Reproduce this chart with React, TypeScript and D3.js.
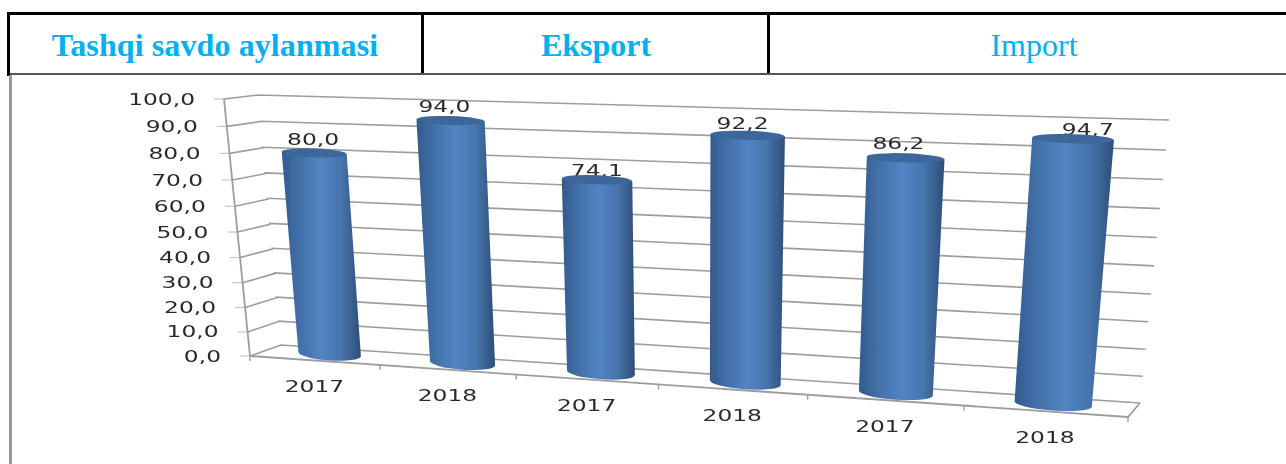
import React from "react";
import * as d3 from "d3";

// ---- data ----
const categories = ["2017", "2018", "2017", "2018", "2017", "2018"];
const values = [80.0, 94.0, 74.1, 92.2, 86.2, 94.7];
const valueLabels = ["80,0", "94,0", "74,1", "92,2", "86,2", "94,7"];
const yTicks = [0, 10, 20, 30, 40, 50, 60, 70, 80, 90, 100];
const headers = ["Tashqi savdo aylanmasi", "Eksport", "Import"];

// ---- layout ----
const W = 1286, H = 464;
const labelNudges: [number, number][] = [[-1, -14], [-6, -14], [0, -9], [-5, -12], [-7, -14], [15, -9]];
type P = [number, number];

// projective map of the unit square onto a quad
function quad(p00: P, p10: P, p01: P, p11: P) {
  const dx1 = p10[0] - p11[0], dx2 = p01[0] - p11[0], sx = p00[0] - p10[0] + p11[0] - p01[0];
  const dy1 = p10[1] - p11[1], dy2 = p01[1] - p11[1], sy = p00[1] - p10[1] + p11[1] - p01[1];
  const det = dx1 * dy2 - dx2 * dy1;
  const g = (sx * dy2 - dx2 * sy) / det;
  const h = (dx1 * sy - sx * dy1) / det;
  const a = p10[0] - p00[0] + g * p10[0], b = p01[0] - p00[0] + h * p01[0], c = p00[0];
  const d = p10[1] - p00[1] + g * p10[1], e = p01[1] - p00[1] + h * p01[1], f = p00[1];
  return (s: number, t: number): P => {
    const w = g * s + h * t + 1;
    return [(a * s + b * t + c) / w, (d * s + e * t + f) / w];
  };
}

const vScale = d3.scaleLinear().domain([0, 100]).range([0, 1]);
const catCount = categories.length;

const backWall = quad([281, 345], [1140, 403], [258, 95], [1169, 120]);
const leftWall = quad([250, 356], [281, 345], [224, 99], [258, 95]);
const barPlane = quad([329.5, 354], [1053, 404], [310, 100], [1074, 123]);
const uBar = d3.scaleLinear().domain([0.5, catCount - 0.5]).range([0, 1]);

// front edge of the floor, with foreshortening
const frontA: P = [250, 356], frontB: P = [1128, 417];
const K = 0.8704;
const front = (u: number): P => {
  const s = u / catCount;
  const t = (K * s) / (1 - (1 - K) * s);
  return [frontA[0] + (frontB[0] - frontA[0]) * t, frontA[1] + (frontB[1] - frontA[1]) * t];
};

const AXIS = "#9d9d9d";
const TEXT = "#2b2b2b";
const FONT = "'DejaVu Sans', sans-serif";
const SERIF = "'Liberation Serif', serif";
const STRETCH = 1.46;

function WideText({ x, y, children, anchor = "middle", size = 16 }: any) {
  return (
    <text
      transform={`translate(${x},${y}) scale(${STRETCH},1)`}
      textAnchor={anchor}
      dominantBaseline="central"
      fontFamily={FONT}
      fontSize={size}
      fill={TEXT}
    >
      {children}
    </text>
  );
}

function Bar({ i }: { i: number }) {
  const u = i + 0.5;
  const s = uBar(u);
  const half = 0.24 * (1 / (catCount - 1));
  const t = vScale(values[i]);
  const TL = barPlane(s - half, t), TR = barPlane(s + half, t);
  const BL = barPlane(s - half, 0), BR = barPlane(s + half, 0);
  const rxT = Math.hypot(TR[0] - TL[0], TR[1] - TL[1]) / 2;
  const rxB = Math.hypot(BR[0] - BL[0], BR[1] - BL[1]) / 2;
  const rotT = (Math.atan2(TR[1] - TL[1], TR[0] - TL[0]) * 180) / Math.PI;
  const rotB = (Math.atan2(BR[1] - BL[1], BR[0] - BL[0]) * 180) / Math.PI;
  const cx = (TL[0] + TR[0]) / 2, cy = (TL[1] + TR[1]) / 2;
  return (
    <g>
      <path
        d={`M${TL} L${BL} A${rxB} 6.5 ${rotB} 0 0 ${BR} L${TR} Z`}
        fill="url(#cyl)"
      />
      <ellipse cx={cx} cy={cy} rx={rxT} ry={4.5} transform={`rotate(${rotT} ${cx} ${cy})`} fill="#3c669a" />
    </g>
  );
}

export default function App() {
  const bold = [true, true, false];
  const textCenters = [215, 596, 1034];
  const textSpacing = [0.1, 0, 0];
  return (
    <div style={{ position: "absolute", left: 0, top: 0, width: W, height: H, background: "#fff", overflow: "hidden" }}>
      <svg width={W} height={H} viewBox={`0 0 ${W} ${H}`} style={{ display: "block" }}>
        <defs>
          <linearGradient id="cyl" x1="0" x2="1" y1="0" y2="0">
            <stop offset="0" stopColor="#315a8b" />
            <stop offset="0.14" stopColor="#3d699f" />
            <stop offset="0.5" stopColor="#5285c5" />
            <stop offset="0.76" stopColor="#4674ab" />
            <stop offset="1" stopColor="#2d4e78" />
          </linearGradient>
          <filter id="soft" x="-2%" y="-2%" width="104%" height="104%">
            <feGaussianBlur stdDeviation="0.45" />
          </filter>
        </defs>

        {/* header table */}
        <rect x={7} y={12} width={W} height={3} fill="#000" />
        <rect x={7} y={12} width={3} height={64} fill="#000" />
        <rect x={421} y={14} width={3} height={59} fill="#000" />
        <rect x={767} y={14} width={3} height={59} fill="#000" />
        <rect x={10} y={73} width={W} height={2} fill="#555" />
        <rect x={9} y={75} width={3} height={H - 75} fill="#999" />
        {headers.map((h, i) => (
          <text
            key={i}
            x={textCenters[i]}
            y={44.5}
            textAnchor="middle"
            dominantBaseline="central"
            fontFamily={SERIF}
            fontWeight={bold[i] ? 700 : 400}
            fontSize={32}
            letterSpacing={textSpacing[i]}
            fill="#00b0f0"
          >
            {h}
          </text>
        ))}

        <g filter="url(#soft)">
          {/* grid lines on the walls */}
          {yTicks.map((v) => {
            const t = vScale(v);
            const a = leftWall(0, t), b = leftWall(1, t), c = backWall(0, t), d = backWall(1, t);
            return (
              <g key={v}>
                <path d={`M${a[0] - 10},${a[1]} L${a[0]},${a[1]}`} stroke="#c4c4c4" strokeWidth={1.2} fill="none" />
                <path d={`M${a} L${b} L${c} L${d}`} stroke={AXIS} strokeWidth={1.6} fill="none" />
              </g>
            );
          })}
          {/* left edge and floor */}
          <path d={`M${leftWall(0, 1)} L${leftWall(0, 0)}`} stroke={AXIS} strokeWidth={1.8} fill="none" />
          <path d={`M${backWall(1, 0)} L${frontB} L${frontA}`} stroke={AXIS} strokeWidth={1.8} fill="none" />
          {d3.range(0, catCount + 1).map((u) => {
            const p = front(u);
            return <path key={u} d={`M${p} L${p[0]},${p[1] + 5}`} stroke={AXIS} strokeWidth={1.4} fill="none" />;
          })}

          {/* y labels */}
          {yTicks.map((v) => {
            const a = leftWall(0, vScale(v));
            return (
              <WideText key={v} x={a[0] - 29} y={a[1]} anchor="end">
                {`${v.toFixed(1).replace(".", ",")}`}
              </WideText>
            );
          })}

          {/* category labels */}
          {categories.map((c, i) => {
            const p = front(i + 0.5);
            return (
              <WideText key={i} x={p[0]} y={p[1] + 26}>
                {c}
              </WideText>
            );
          })}

          {/* value labels sit behind the cylinders */}
          {values.map((v, i) => {
            const top = barPlane(uBar(i + 0.5), vScale(v));
            return (
              <WideText key={i} x={top[0] + labelNudges[i][0]} y={top[1] + labelNudges[i][1]}>
                {valueLabels[i]}
              </WideText>
            );
          })}

          {values.map((_, i) => (
            <Bar key={i} i={i} />
          ))}
        </g>
      </svg>
    </div>
  );
}
